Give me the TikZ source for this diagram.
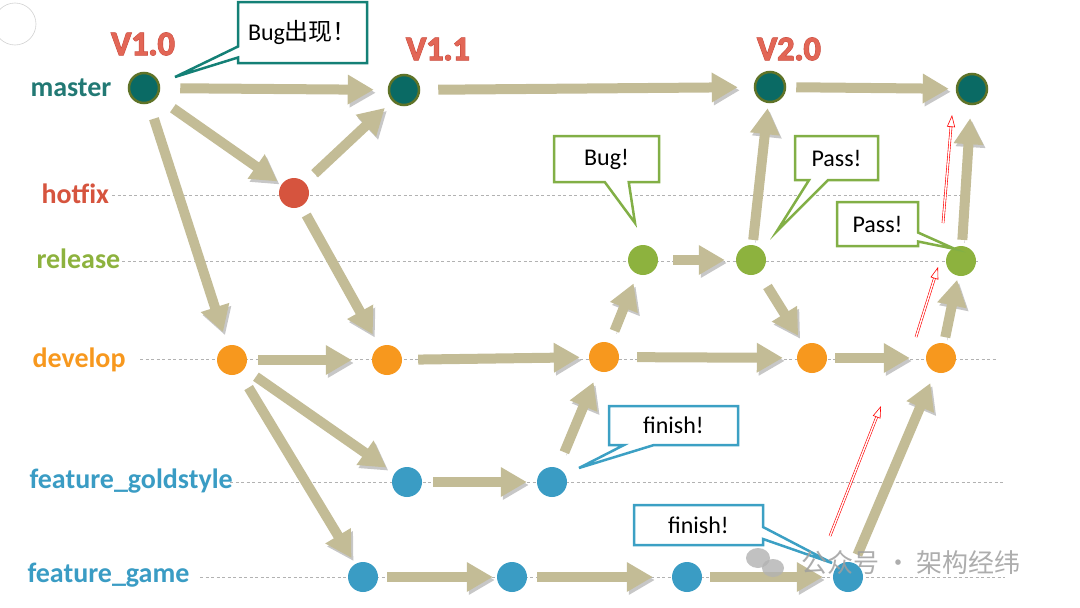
\documentclass[tikz,border=0pt]{standalone}
\usepackage{fontspec}
\setmainfont{Carlito}
\newfontfamily\cjk{Noto Sans CJK SC}
\newfontfamily\versionfont[BoldFeatures={FakeBold=1}]{Carlito}
\newfontfamily\versionrim[BoldFeatures={FakeBold=3.5}]{Carlito}
\usepackage{xcolor}
\usepackage{tikz}
\usetikzlibrary{arrows.meta,shapes.callouts,calc}

\definecolor{mastergreen}{RGB}{10,106,100}
\definecolor{masterrim}{RGB}{95,115,40}
\definecolor{hotfixred}{RGB}{214,84,62}
\definecolor{releasegreen}{RGB}{141,178,62}
\definecolor{developorange}{RGB}{247,152,30}
\definecolor{featureblue}{RGB}{58,156,196}
\definecolor{flowkhaki}{RGB}{195,188,150}
\definecolor{versionred}{RGB}{226,102,86}
\definecolor{versiondark}{RGB}{196,70,58}
\definecolor{guidegray}{RGB}{178,178,178}
\definecolor{notegreen}{RGB}{130,175,70}
\definecolor{noteteal}{RGB}{20,128,118}
\definecolor{noteblue}{RGB}{60,160,196}

\tikzset{
  commit/.style={circle, minimum size=30pt, inner sep=0pt},
  branch/.style={anchor=base west, font=\fontsize{28}{30}\selectfont\bfseries},
  version/.style={anchor=base, text=versionred, font=\versionfont\fontsize{34}{36}\selectfont\bfseries},
  versionback/.style={anchor=base, text=versiondark, font=\versionrim\fontsize{34}{36}\selectfont\bfseries},
  guide/.style={draw=guidegray, line width=1pt, dash pattern=on 3pt off 2.5pt},
  flow/.style={draw=flowkhaki, line width=10pt, -{Triangle[length=26pt,width=28pt]},
    shorten <=10pt, shorten >=10pt,
    preaction={draw=black!22, transform canvas={xshift=2pt,yshift=-3pt}}},
  note/.style={rectangle callout, draw, fill=white, line width=2.5pt, inner sep=0pt,
    font=\fontsize{24}{26}\selectfont},
  merge/.style={draw=red, line width=0.6pt, double=white, double distance=1.4pt,
    -{Triangle[open,length=12pt,width=8pt]}}
}

\begin{document}
\begin{tikzpicture}[x=1pt,y=-1pt]
\useasboundingbox (0,0) rectangle (1080,608);
\draw[gray!35, line width=0.6pt] (15,24) circle (21);

% branch names
\node[branch, text=mastergreen!90] (lmaster) at (27,96) {master};
\node[branch, text=hotfixred] (lhotfix) at (38,203) {hotfix};
\node[branch, text=releasegreen] (lrelease) at (33,268) {release};
\node[branch, text=developorange] (ldevelop) at (29,367) {develop};
\node[branch, text=featureblue] (lgold) at (26,488) {feature\_goldstyle};
\node[branch, text=featureblue] (lgame) at (24,582) {feature\_game};

% dashed guides
\coordinate (ehotfix) at (963,195);
\coordinate (erelease) at (978,261);
\coordinate (edevelop) at (997,359);
\coordinate (egold) at (1005,482);
\coordinate (egame) at (1005,577);
\draw[guide] (112,195) -- (ehotfix);
\draw[guide] (122,261) -- (erelease);
\draw[guide] (140,359) -- (edevelop);
\draw[guide] (230,482) -- (egold);
\draw[guide] (200,577) -- (egame);

% versions
\node[versionback] (v10b) at (143,55) {V1.0};
\node[versionback] (v11b) at (438,60) {V1.1};
\node[versionback] (v20b) at (789,60) {V2.0};
\node[version] (v10) at (143,55) {V1.0};
\node[version] (v11) at (438,60) {V1.1};
\node[version] (v20) at (789,60) {V2.0};

% commits
\node[commit, fill=mastergreen, draw=masterrim, line width=2.5pt] (m1) at (144,88) {};
\node[commit, fill=mastergreen, draw=masterrim, line width=2.5pt] (m2) at (404,90) {};
\node[commit, fill=mastergreen, draw=masterrim, line width=2.5pt] (m3) at (770,87) {};
\node[commit, fill=mastergreen, draw=masterrim, line width=2.5pt] (m4) at (972,89) {};
\node[commit, fill=hotfixred] (h1) at (294,193) {};
\node[commit, fill=releasegreen] (r1) at (643,260) {};
\node[commit, fill=releasegreen] (r2) at (751,260) {};
\node[commit, fill=releasegreen] (r3) at (961,261) {};
\node[commit, fill=developorange] (d1) at (232,360) {};
\node[commit, fill=developorange] (d2) at (387,360) {};
\node[commit, fill=developorange] (d3) at (604,357) {};
\node[commit, fill=developorange] (d4) at (812,358) {};
\node[commit, fill=developorange] (d5) at (941,358) {};
\node[commit, fill=featureblue] (g1) at (407,482) {};
\node[commit, fill=featureblue] (g2) at (552,482) {};
\node[commit, fill=featureblue] (f1) at (363,577) {};
\node[commit, fill=featureblue] (f2) at (512,577) {};
\node[commit, fill=featureblue] (f3) at (687,577) {};
\node[commit, fill=featureblue] (f4) at (848,577) {};

% flows
\draw[flow, shorten <=20pt, shorten >=14pt] (m1) -- (m2);
\draw[flow, shorten <=18pt, shorten >=16pt] (m2) -- (m3);
\draw[flow, shorten >=7pt] (m3) -- (m4);
\draw[flow, shorten <=19pt, shorten >=5pt] (m1) -- (h1);
\draw[flow, shorten <=13pt] (h1) -- (m2);
\draw[flow, shorten <=16pt, shorten >=14pt] (m1) -- (d1);
\draw[flow, shorten >=14pt] (h1) -- (d2);
\draw[flow, shorten <=11pt, shorten >=20pt] (d1) -- (d2);
\draw[flow, shorten <=16pt, shorten >=9pt] (d2) -- (d3);
\draw[flow, shorten <=18pt, shorten >=14pt] (d3) -- (d4);
\draw[flow, shorten <=8pt, shorten >=16pt] (d4) -- (d5);
\draw[flow, shorten <=13pt] (d3) -- (r1);
\draw[flow, shorten <=15pt, shorten >=11pt] (r1) -- (r2);
\draw[flow, shorten <=5pt, shorten >=5pt] (r2) -- (m3);
\draw[flow, shorten <=16pt, shorten >=11pt] (r2) -- (d4);
\draw[flow, shorten <=6pt, shorten >=4pt] (d5) -- (r3);
\draw[flow, shorten <=6pt, shorten >=13pt] (r3) -- (m4);
\draw[flow, shorten <=14pt] (d1) -- (g1);
\draw[flow, shorten <=17pt, shorten >=7pt] (d1) -- (f1);
\draw[flow, shorten <=11pt] (g1) -- (g2);
\draw[flow, shorten <=17pt, shorten >=12pt] (g2) -- (d3);
\draw[flow, shorten <=9pt, shorten >=4pt] (f1) -- (f2);
\draw[flow, shorten <=10pt, shorten >=19pt] (f2) -- (f3);
\draw[flow, shorten <=8pt, shorten >=10pt] (f3) -- (f4);
\draw[flow, shorten <=9pt, shorten >=12pt] (f4) -- (d5);

% red merge hints
\coordinate (ra) at (830,536);
\coordinate (rb) at (881,406);
\coordinate (rc) at (916,337);
\coordinate (rd) at (938,267);
\coordinate (re) at (943,223);
\coordinate (rf) at (952,115);
\draw[merge] (ra) -- (rb);
\draw[merge] (rc) -- (rd);
\draw[merge] (re) -- (rf);

% callouts
\coordinate (tbug) at (175,77);
\coordinate (tbug2) at (635,223);
\coordinate (tpass) at (777,231);
\coordinate (tpass2) at (955,249);
\coordinate (tfin) at (579,468);
\coordinate (tfin2) at (832,563);
\node[note, draw=noteteal, minimum width=129pt, minimum height=61pt,
  callout pointer width=11pt, callout absolute pointer={(tbug)}] (nbug) at (302.5,32.5) {Bug{\cjk 出现！}};
\node[note, draw=notegreen, minimum width=105pt, minimum height=46pt,
  callout pointer width=24pt, callout absolute pointer={(tbug2)}] (nbug2) at (606.5,159) {Bug!};
\node[note, draw=notegreen, minimum width=83pt, minimum height=44pt,
  callout pointer width=19pt, callout absolute pointer={(tpass)}] (npass) at (836.5,158) {Pass!};
\node[note, draw=notegreen, minimum width=81pt, minimum height=44pt,
  callout pointer width=9pt, callout absolute pointer={(tpass2)}] (npass2) at (877.5,224) {Pass!};
\node[note, draw=noteblue, minimum width=129pt, minimum height=39pt,
  callout pointer width=30pt, callout absolute pointer={(tfin)}] (nfin) at (673.5,425.5) {finish!};
\node[note, draw=noteblue, minimum width=129pt, minimum height=40pt,
  callout pointer width=12pt, callout absolute pointer={(tfin2)}] (nfin2) at (698.5,525) {finish!};

% watermark
\fill[gray!60, opacity=0.8] (758,558) ellipse (12 and 10);
\fill[gray!60, opacity=0.8] (773,568) ellipse (11 and 9);
\node[text=gray!75, opacity=0.85, font=\cjk\fontsize{26}{28}\selectfont] (mark) at (911,563) {公众号 · 架构经纬};
\end{tikzpicture}
\end{document}
